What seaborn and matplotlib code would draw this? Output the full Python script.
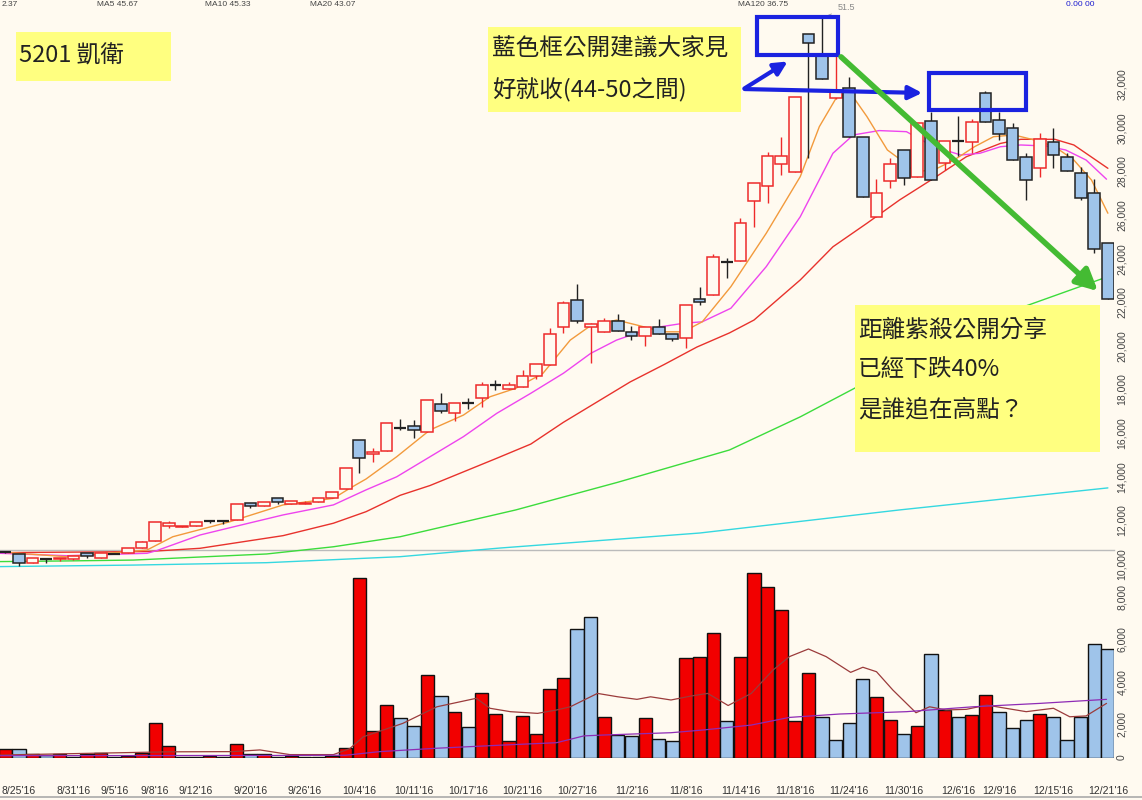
import numpy as np
import matplotlib
matplotlib.use('Agg')
import matplotlib.pyplot as plt
from matplotlib.patches import Rectangle
import seaborn as sns
import pandas as pd

# ---- daily bars, 8/24'16 .. 12/21'16 (82 trading days)
opens = [10000, 9910, 9510, 9680, 9665, 9690, 9950, 9715, 9920, 9940,
         10170, 10520, 11210, 11140, 11210, 11410, 11410, 11450, 12260, 12120,
         12460, 12190, 12210, 12280, 12460, 12900, 15120, 14480, 14650, 15700,
         15780, 15500, 16800, 16390, 16820, 17080, 17660, 17460, 17570, 18090,
         18570, 20340, 21560, 20310, 20080, 20610, 20100, 19910, 20340, 19990,
         19830, 21600, 21790, 23290, 23340, 26090, 26790, 27790, 27450, 33760,
         32800, 30830, 31270, 29020, 25380, 27030, 28440, 27190, 29750, 27860,
         28840, 28800, 31040, 29820, 29470, 28130, 27600, 28820, 28130, 27400,
         26450, 24180]
highs = [10060, 9910, 9725, 9680, 9740, 9830, 9950, 9940, 9940, 10170,
         10500, 11360, 11440, 11210, 11360, 11460, 11410, 12190, 12260, 12280,
         12460, 12330, 12330, 12460, 12740, 13870, 15120, 14750, 15900, 16100,
         16050, 16990, 17280, 16850, 17050, 17800, 17890, 17810, 18350, 18610,
         20260, 21530, 22280, 20500, 20730, 20900, 20380, 20310, 20680, 19990,
         21330, 22170, 23650, 23500, 25310, 26910, 28360, 29020, 30860, 33760,
         34500, 32800, 31810, 29020, 27100, 28060, 28440, 29700, 30200, 28870,
         30000, 29850, 31150, 30200, 29660, 28290, 29200, 29440, 28320, 27650,
         27100, 24180]
lows = [9950, 9370, 9510, 9510, 9600, 9630, 9740, 9715, 9900, 9940,
        10170, 10520, 11120, 11140, 11210, 11330, 11270, 11450, 12020, 12120,
        12190, 12190, 12210, 12280, 12460, 12900, 13610, 14110, 14650, 15600,
        15215, 15500, 16360, 16020, 16560, 16670, 17430, 17460, 17570, 17940,
        18570, 20060, 20490, 18650, 20080, 20150, 19720, 19450, 19990, 19680,
        19370, 21330, 21790, 22560, 23340, 24920, 26020, 27290, 27450, 28060,
        31680, 30800, 29050, 26300, 25380, 26680, 26820, 27190, 27070, 27520,
        28180, 28320, 29740, 28900, 27990, 26150, 27190, 27630, 27480, 26150,
        23730, 21590]
closes = [10000, 9480, 9725, 9680, 9740, 9830, 9815, 9940, 9920, 10170,
          10445, 11360, 11350, 11210, 11360, 11410, 11410, 12190, 12120, 12280,
          12280, 12330, 12260, 12460, 12740, 13870, 14300, 14590, 15900, 15700,
          15580, 16990, 16480, 16850, 16820, 17650, 17660, 17660, 18060, 18610,
          19990, 21440, 20600, 20440, 20610, 20150, 19920, 20310, 19990, 19780,
          21330, 21470, 23520, 23290, 25110, 26910, 28180, 28180, 30860, 33350,
          31680, 31190, 29050, 26300, 26450, 27780, 27170, 29700, 27070, 28870,
          28840, 29730, 29740, 29180, 27990, 27060, 28930, 28210, 27480, 26240,
          23880, 21590]
volumes = [410, 410, 190, 150, 170, 60, 190, 250, 50, 90,
           250, 1650, 580, 30, 30, 90, 60, 680, 210, 210,
           50, 110, 60, 70, 90, 490, 8450, 1270, 2480, 1870,
           1490, 3920, 2900, 2150, 1440, 3040, 2050, 800, 1980, 1130,
           3230, 3750, 6050, 6620, 1910, 1080, 1050, 1870, 880, 800,
           4700, 4770, 5880, 1730, 4770, 8720, 8060, 6960, 1730, 4020,
           1910, 850, 1630, 3700, 2850, 1770, 1130, 1510, 4890, 2260,
           1910, 2020, 2950, 2150, 1400, 1770, 2050, 1910, 850, 1950,
           5360, 5130]
# volume colour: U = close above previous close, D = below
vol_dir = list("UDUDUDUUDU" "UUUDDUDUDU" "DUDUUUUUUD" "DUDUDUUUUU" "UUDDUDDUDD"
               "UUUDUUUUUU" "DDDDUUDUDU" "DUUDDDUDDD" "DD")

# moving-average lines, read at points along each curve (bar index, value)
ma5_x = [-0.4, 4.5, 10.4, 12.3, 16.5, 20.4, 24.1, 25.3, 26.5, 28.75, 31.2, 33.65, 35.6, 37.5,
         39.5, 41.5, 42.9, 44.9, 46.4, 48.3, 49.8, 51.2, 53.3, 55.9, 58.4, 59.8, 61.1, 62.1,
         63.3, 64.8, 65.8, 66.8, 68.2, 69.7, 71.2, 72.6, 74.1, 75.6, 77.1, 78.5, 79.8, 81.0]
ma5_y = [10000, 9785, 10090, 10700, 11390, 12160, 12460, 12920, 13350, 14370, 15600, 16280, 17120, 17510,
         18200, 19720, 20340, 20640, 20410, 20100, 20100, 20560, 22170, 24620, 27220, 29510, 30890, 31040,
         29970, 28440, 27980, 27450, 27520, 27980, 28590, 29050, 29130, 28900, 28590, 27980, 27060, 25540]
ma10_x = [-0.4, 4.5, 10.4, 11.1, 14.3, 16.8, 20.4, 24.1, 26.5, 28.75, 31.2, 33.65, 36.1, 38.6,
          41.0, 43.0, 44.9, 47.4, 49.8, 51.2, 53.3, 55.9, 58.4, 60.8, 62.3, 64.2, 66.2, 68.2,
          70.2, 71.6, 73.1, 74.6, 76.5, 77.9, 79.4, 80.9]
ma10_y = [9940, 9830, 9940, 10060, 10780, 11160, 11700, 12160, 12850, 13450, 14370, 15290, 16360, 17280,
          18200, 19110, 19720, 20260, 20490, 20560, 21180, 23090, 25380, 28290, 29130, 29330, 29280, 28590,
          28210, 28290, 28590, 28670, 28620, 28440, 27980, 27100]
ma20_x = [-0.4, 10.4, 14.3, 20.4, 24.1, 26.5, 29.0, 31.2, 36.1, 38.6, 41.0, 45.9, 48.4, 50.8,
          53.2, 55.0, 58.4, 60.8, 63.3, 65.7, 68.2, 70.6, 73.1, 74.6, 77.1, 78.5, 81.0]
ma20_y = [9970, 10020, 10170, 10750, 11320, 11850, 12600, 13050, 14300, 14950, 15950, 17800, 18600, 19400,
          20050, 20640, 22480, 24000, 25080, 26150, 27140, 28130, 28740, 28930, 28930, 28670, 27600]
ma60_x = [-0.4, 4.5, 9.4, 19.2, 24.1, 29.0, 37.5, 45.0, 53.2, 58.4, 65.7, 74.5, 81.0]
ma60_y = [9560, 9590, 9630, 9910, 10240, 10700, 11930, 13200, 14680, 16200, 18600, 21180, 22630]
ma120_x = [-0.4, 9.4, 19.2, 29.0, 36.3, 51.0, 65.7, 81.0]
ma120_y = [9330, 9400, 9510, 9785, 10180, 10870, 11930, 12940]

vma10_x = [-0.4, 11.9, 16.7, 18.7, 20.9, 24.1, 25.3, 26.3, 29.2, 31.7, 34.6, 35.6, 37.1, 39.1, 40.5,
           41.5, 43.5, 45.0, 46.4, 47.4, 48.9, 50.4, 51.6, 53.1, 54.8, 56.4, 57.6, 59.0, 60.3, 62.1,
           63.0, 64.0, 65.2, 66.9, 67.9, 69.1, 70.6, 72.1, 73.5, 75.0, 77.0, 78.2, 79.4, 80.9]
vma10_y = [140, 290, 300, 380, 160, 160, 440, 1000, 1630, 2410, 2810, 2340, 2180, 2100, 2260,
           2410, 3040, 2880, 2760, 2880, 2730, 2920, 3040, 2470, 3040, 4140, 4770, 5130, 4770, 4030,
           4270, 4060, 3200, 2130, 2410, 2260, 2290, 2490, 2340, 2180, 2340, 1940, 1980, 2570]
vma60_x = [-0.4, 20.0, 25.0, 27.5, 31.7, 36.6, 40.5, 42.5, 43.9, 48.9, 51.3, 54.8, 57.6, 61.3,
           66.2, 71.1, 76.0, 80.9]
vma60_y = [110, 120, 130, 300, 460, 610, 720, 1040, 1080, 1190, 1320, 1550, 1910, 2070,
           2180, 2410, 2570, 2760]

tick_idx = [1, 5, 8, 11, 14, 18, 22, 26, 30, 34, 38, 42, 46, 50, 54, 58, 62, 66, 70, 73, 77, 81]
tick_lbl = ["8/25'16", "8/31'16", "9/5'16", "9/8'16", "9/12'16", "9/20'16", "9/26'16", "10/4'16",
            "10/11'16", "10/17'16", "10/21'16", "10/27'16", "11/2'16", "11/8'16", "11/14'16",
            "11/18'16", "11/24'16", "11/30'16", "12/6'16", "12/9'16", "12/15'16", "12/21'16"]
price_ticks = list(range(10000, 32001, 2000))
vol_ticks = [0, 2000, 4000, 6000, 8000]
# header strip along the top edge of the screenshot
header_x = [2, 97, 205, 310, 738, 1066]
header_txt = ['2.37', 'MA5 45.67', 'MA10 45.33', 'MA20 43.07', 'MA120 36.75', '0.00 00']

BG = '#FFFAF0'
UP = '#EE2A2A'
DOWN_FILL = '#9FC4EA'
CJK = ['Noto Sans CJK TC', 'DejaVu Sans']

sns.set_theme(style='white', rc={'figure.facecolor': BG, 'axes.facecolor': 'none'})
plt.rcParams['font.family'] = ['Liberation Sans', 'DejaVu Sans']

W, H = 1142, 800
fig = plt.figure(figsize=(W / 100, H / 100), dpi=100)


def box(top, bottom, right=1114):
    return [0, 1 - bottom / H, right / W, (bottom - top) / H]


xlim = (-0.397, 81.45)

# ---- volume panel
ax_v = fig.add_axes(box(550, 758))
vol_df = pd.DataFrame({'i': np.arange(len(volumes)), 'vol': volumes, 'dir': vol_dir})
sns.barplot(data=vol_df, x='i', y='vol', hue='dir', palette={'U': '#F20000', 'D': DOWN_FILL},
            native_scale=True, width=0.97, saturation=1, edgecolor='#111111', linewidth=1.0,
            legend=False, ax=ax_v, zorder=2)
sns.lineplot(x=vma10_x, y=vma10_y, color='#9B3B3B', lw=0.9, ax=ax_v, zorder=3)
sns.lineplot(x=vma60_x, y=vma60_y, color='#8E2BB5', lw=0.9, ax=ax_v, zorder=3)
ax_v.set_xlim(*xlim)
ax_v.set_ylim(0, 9788)
ax_v.yaxis.tick_right()
ax_v.set_yticks(vol_ticks)
ax_v.set_yticklabels([f'{v:,}' for v in vol_ticks])
ax_v.tick_params(axis='y', length=0, pad=2, labelrotation=90, labelsize=7.5, labelcolor='#444')
ax_v.set_xticks([])
ax_v.set_xlabel('')
ax_v.set_ylabel('')
for s in ['left', 'right', 'bottom']:
    ax_v.spines[s].set_visible(False)
ax_v.spines['top'].set_color('#BBBBBB')
ax_v.spines['top'].set_linewidth(1.0)

# ---- price panel
ax_p = fig.add_axes(box(0, 575))
o = np.array(opens); h = np.array(highs); l = np.array(lows); c = np.array(closes)
x = np.arange(len(c))
up = c > o
dn = c < o
fl = c == o
sns.lineplot(x=ma120_x, y=ma120_y, color='#35D8E0', lw=1.0, ax=ax_p, zorder=1)
sns.lineplot(x=ma60_x, y=ma60_y, color='#3CDC3C', lw=1.0, ax=ax_p, zorder=1)
sns.lineplot(x=ma20_x, y=ma20_y, color='#E8322C', lw=1.0, ax=ax_p, zorder=1)
sns.lineplot(x=ma10_x, y=ma10_y, color='#EE44EE', lw=1.0, ax=ax_p, zorder=1)
sns.lineplot(x=ma5_x, y=ma5_y, color='#F29A3C', lw=1.0, ax=ax_p, zorder=1)
ax_p.vlines(x[up], l[up], h[up], color=UP, lw=1.0, zorder=2)
ax_p.vlines(x[~up], l[~up], h[~up], color='#222222', lw=1.0, zorder=2)
ax_p.bar(x[up], c[up] - o[up], bottom=o[up], width=0.86, facecolor=BG, edgecolor=UP, lw=1.1, zorder=3)
ax_p.bar(x[dn], o[dn] - c[dn], bottom=c[dn], width=0.86, facecolor=DOWN_FILL, edgecolor='#222222',
         lw=1.1, zorder=3)
ax_p.hlines(c[fl], x[fl] - 0.43, x[fl] + 0.43, color='#222222', lw=1.6, zorder=3)
ax_p.annotate('51.5', xy=(60, h[60]), xytext=(11, 4), textcoords='offset points',
              fontsize=6.5, color='#888888', va='bottom',
              arrowprops=dict(arrowstyle='-', color='#999999', lw=0.6))
ax_p.set_xlim(*xlim)
ax_p.set_ylim(8945, 35320)
ax_p.yaxis.tick_right()
ax_p.set_yticks(price_ticks)
ax_p.set_yticklabels([f'{v:,}' for v in price_ticks])
ax_p.tick_params(axis='y', length=0, pad=2, labelrotation=90, labelsize=7.5, labelcolor='#444')
ax_p.set_xticks([])
for s in ax_p.spines.values():
    s.set_visible(False)

# ---- date axis
ax_d = fig.add_axes(box(783, 784))
ax_d.set_xlim(*xlim)
ax_d.set_yticks([])
ax_d.set_xticks(tick_idx)
ax_d.set_xticklabels(tick_lbl)
ax_d.set_xticks(x, minor=True)
ax_d.tick_params(axis='x', which='major', direction='in', length=4, width=0.7, color='#777',
                 pad=1.5, labelsize=7.5, labelcolor='#333')
ax_d.tick_params(axis='x', which='minor', direction='in', length=2.5, width=0.7, color='#999')
for s in ax_d.spines.values():
    s.set_visible(False)

# ---- annotation layer in pixel coordinates
ax_a = fig.add_axes([0, 0, 1, 1])
ax_a.set_xlim(0, W)
ax_a.set_ylim(H, 0)
ax_a.axis('off')
ax_a.plot([0, W], [797, 797], color='#AAAAAA', lw=1.2)
for hx, ht in zip(header_x, header_txt):
    ax_a.text(hx, 1, ht, fontsize=6, va='top', ha='left',
              color='#1A1AD0' if hx > 1000 else '#444444')

YEL = '#FFFF80'
BLUE = '#1A22E0'
ax_a.add_patch(Rectangle((16, 32), 155, 49, facecolor=YEL, edgecolor='none'))
ax_a.text(19, 56, '5201 凱衛', fontsize=17, va='center', ha='left', family=CJK, color='#222')

ax_a.add_patch(Rectangle((488, 27), 253, 85, facecolor=YEL, edgecolor='none'))
ax_a.text(492, 48, '藍色框公開建議大家見', fontsize=17, va='center', ha='left', family=CJK, color='#222')
ax_a.text(492, 90, '好就收(44-50之間)', fontsize=17, va='center', ha='left', family=CJK, color='#222')

ax_a.add_patch(Rectangle((855, 305), 245, 147, facecolor=YEL, edgecolor='none'))
for yy, t in zip([330, 370, 410], ['距離紫殺公開分享', '已經下跌40%', '是誰追在高點？']):
    ax_a.text(858, yy, t, fontsize=17, va='center', ha='left', family=CJK, color='#222')

ax_a.add_patch(Rectangle((757, 17), 81, 38, fill=False, edgecolor=BLUE, lw=3))
ax_a.add_patch(Rectangle((929, 73), 97, 37, fill=False, edgecolor=BLUE, lw=3))
ax_a.annotate('', xy=(790, 60), xytext=(742, 90),
              arrowprops=dict(arrowstyle='-|>', color=BLUE, lw=3, mutation_scale=20))
ax_a.annotate('', xy=(925, 93), xytext=(742, 89),
              arrowprops=dict(arrowstyle='-|>', color=BLUE, lw=3, mutation_scale=20))
ax_a.annotate('', xy=(1100, 293), xytext=(839, 55),
              arrowprops=dict(arrowstyle='-|>', color='#44BB33', lw=4, mutation_scale=32))

fig.savefig('out.png', dpi=100, facecolor=BG)
